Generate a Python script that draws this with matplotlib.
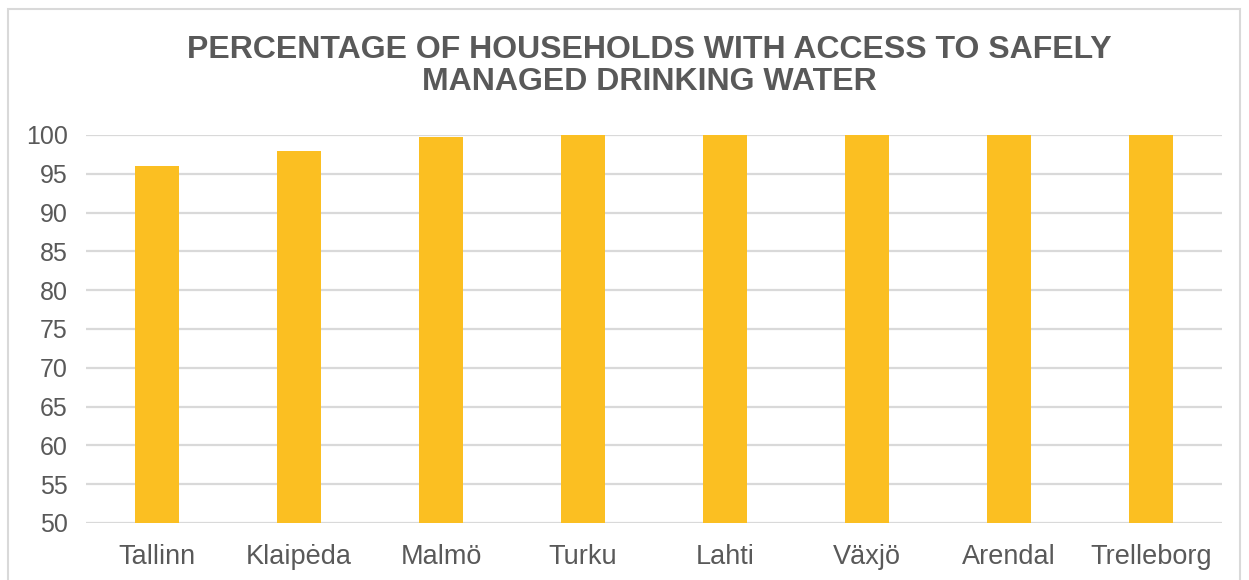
import matplotlib.pyplot as plt
from matplotlib.patches import Rectangle

plt.rcParams['font.family'] = ['Liberation Sans', 'DejaVu Sans']

cities = ['Tallinn', 'Klaipėda', 'Malmö', 'Turku', 'Lahti', 'Växjö', 'Arendal', 'Trelleborg']
share = [96, 98, 99.8, 100, 100, 100, 100, 100]
yticks = list(range(50, 101, 5))

grey = '#595959'
bar_col = '#FBBF22'
grid_col = '#D9D9D9'

fig = plt.figure(figsize=(12.49, 5.8), dpi=100)
ax = fig.add_axes([86 / 1249, 1 - 523 / 580, (1222 - 86) / 1249, (523 - 135) / 580])

x = range(len(cities))
ax.bar(x, [v - 50 for v in share], bottom=50, width=0.31, color=bar_col, zorder=3)

ax.set_ylim(50, 100)
ax.set_xlim(-0.5, len(cities) - 0.5)
ax.set_yticks(yticks)
ax.set_xticks(list(x))
ax.set_xticklabels(cities)
ax.tick_params(axis='both', length=0, labelcolor=grey)
ax.tick_params(axis='y', pad=13, labelsize=18)
ax.tick_params(axis='x', pad=15, labelsize=19.5)
ax.grid(axis='y', color=grid_col, linewidth=1.6, zorder=0)
for s in ax.spines.values():
    s.set_visible(False)

fig.text(0.52, 1 - 66 / 580, 'PERCENTAGE OF HOUSEHOLDS WITH ACCESS TO SAFELY\nMANAGED DRINKING WATER',
         ha='center', va='center', fontsize=23, fontweight='bold', color=grey, linespacing=1.1)

# chart frame
fig.patches.append(Rectangle((8 / 1249, -0.05), (1240 - 8) / 1249, 1.05 - 9 / 580,
                             transform=fig.transFigure, fill=False, edgecolor=grid_col, linewidth=1.5))

fig.savefig('out.png', dpi=100)
